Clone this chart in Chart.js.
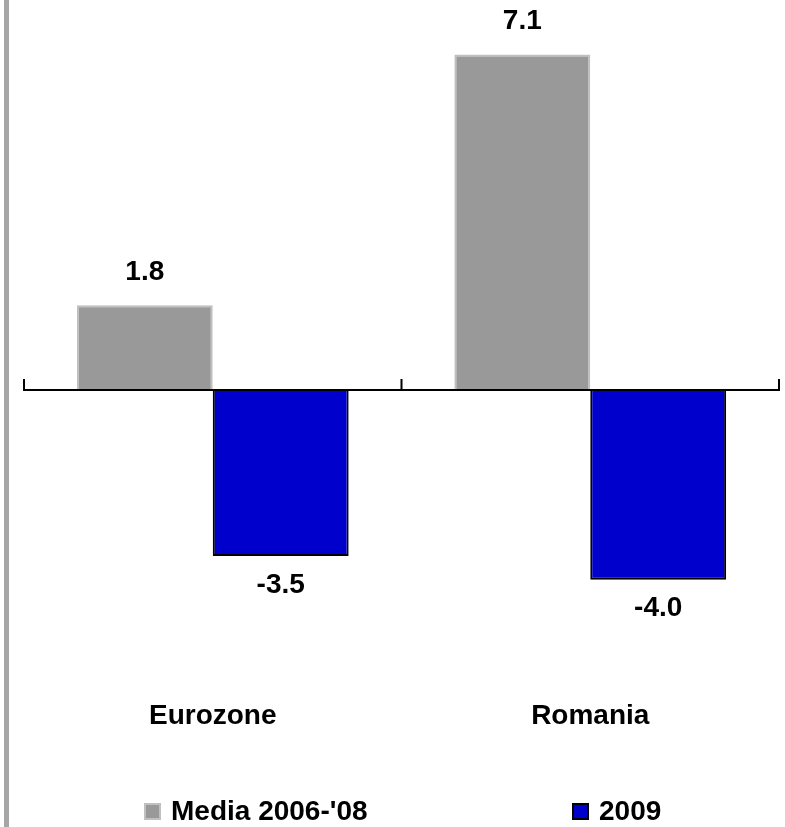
<!DOCTYPE html>
<html>
<head>
<meta charset="utf-8">
<script src="https://cdn.jsdelivr.net/npm/chart.js@4/dist/chart.umd.min.js"></script>
<style>
  html, body { margin: 0; padding: 0; background: #fff; }
  #wrap { width: 785px; height: 827px; }
</style>
</head>
<body>
<div id="wrap"><canvas id="gdpChart"></canvas></div>
<script>
const categories = ["Eurozone", "Romania"];
const seriesNames = ["Media 2006-'08", "2009"];
const avgGrowth = [1.8, 7.1];
const growth2009 = [-3.5, -4.0];

const FONT = "'Liberation Sans', Arial, sans-serif";
const legendX = [144, 572];
const legendY = 812;

// left frame line, zero axis with category ticks, value labels and legend
const extras = {
  id: "extras",
  beforeDraw(chart) {
    const ctx = chart.ctx;
    ctx.save();
    ctx.fillStyle = "#a6a6a6";
    ctx.fillRect(4, 0, 5, chart.height);
    ctx.restore();
  },
  afterDatasetsDraw(chart) {
    const ctx = chart.ctx;
    const x = chart.scales.x, y = chart.scales.y;
    const y0 = Math.round(y.getPixelForValue(0));
    ctx.save();
    ctx.strokeStyle = "#000";
    ctx.lineWidth = 2;
    ctx.beginPath();
    ctx.moveTo(x.left, y0);
    ctx.lineTo(x.right, y0);
    const n = categories.length;
    for (let i = 0; i <= n; i++) {
      const tx = x.left + (x.right - x.left) * i / n;
      ctx.moveTo(tx, y0 + 1);
      ctx.lineTo(tx, y0 - 11);
    }
    ctx.stroke();

    ctx.fillStyle = "#000";
    ctx.font = "bold 28px " + FONT;
    ctx.textAlign = "center";
    ctx.textBaseline = "middle";
    chart.data.datasets.forEach((ds, di) => {
      chart.getDatasetMeta(di).data.forEach((bar, i) => {
        const v = ds.data[i];
        const ly = v >= 0 ? bar.y - 33 : bar.y + 29;
        ctx.fillText(v.toFixed(1), bar.x, ly);
      });
    });
    ctx.restore();
  },
  afterDraw(chart) {
    const ctx = chart.ctx;
    ctx.save();
    ctx.font = "bold 28px " + FONT;
    ctx.textAlign = "left";
    ctx.textBaseline = "middle";
    chart.data.datasets.forEach((ds, i) => {
      const bx = legendX[i];
      ctx.fillStyle = ds.backgroundColor;
      ctx.fillRect(bx, legendY - 9, 17, 17);
      ctx.strokeStyle = ds.borderColor;
      ctx.lineWidth = 2;
      ctx.strokeRect(bx + 1, legendY - 8, 15, 15);
      ctx.fillStyle = "#000";
      ctx.fillText(ds.label, bx + 27, legendY);
    });
    ctx.restore();
  }
};

const config = {
  type: "bar",
  data: {
    labels: categories,
    datasets: [
      {
        label: seriesNames[0],
        data: avgGrowth,
        backgroundColor: "#999999",
        borderColor: "#c0c0c0",
        borderWidth: 2
      },
      {
        label: seriesNames[1],
        data: growth2009,
        backgroundColor: "#0000cc",
        borderColor: "#000000",
        borderWidth: 2
      }
    ]
  },
  options: {
    responsive: true,
    maintainAspectRatio: false,
    animation: false,
    layout: { padding: { top: 10, left: 24, right: 6, bottom: 86 } },
    datasets: { bar: { categoryPercentage: 0.72, barPercentage: 1 } },
    plugins: {
      legend: { display: false },
      tooltip: { enabled: false }
    },
    scales: {
      x: {
        grid: { display: false },
        border: { display: false },
        ticks: {
          color: "#000",
          padding: 8,
          maxRotation: 0,
          autoSkip: false,
          font: { family: FONT, size: 28, weight: "bold" }
        }
      },
      y: { display: false, min: -6.19, max: 8.04 }
    }
  },
  plugins: [extras]
};

new Chart(document.getElementById("gdpChart"), config);
</script>
</body>
</html>
